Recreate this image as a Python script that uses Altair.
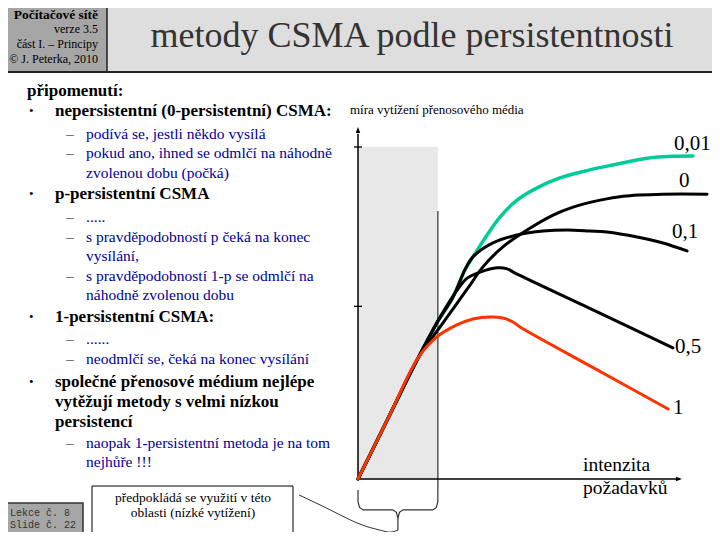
import altair as alt
import pandas as pd

# ---------------- data ----------------
# x = intenzita požadavků, y = míra vytížení přenosového média
x_1 = [0, 0.94, 1.88, 2.45, 3.07, 3.57, 4.10, 4.50, 4.81, 5.03, 7.33, 9.63]
y_1 = [0, 0.184, 0.367, 0.428, 0.464, 0.482, 0.488, 0.485, 0.473, 0.458, 0.334, 0.211]

x_05 = [0, 0.94, 1.88, 2.55, 3.08, 3.39, 3.79, 4.32, 4.63, 4.88, 7.33, 9.78]
y_05 = [0, 0.184, 0.367, 0.488, 0.569, 0.605, 0.623, 0.636, 0.633, 0.620, 0.508, 0.395]

x_01 = [0, 0.94, 1.88, 2.45, 2.95, 3.32, 3.57, 4.19, 4.94, 5.75, 6.49, 7.20, 7.73, 8.67, 9.47, 10.22]
y_01 = [0, 0.184, 0.367, 0.470, 0.548, 0.630, 0.669, 0.711, 0.735, 0.747, 0.750, 0.747, 0.744, 0.729, 0.711, 0.687]

x_001 = [0, 0.94, 1.88, 2.45, 2.95, 3.32, 3.57, 4.01, 4.41, 4.94, 5.56, 6.27, 7.20, 7.92, 8.98, 9.78, 10.40]
y_001 = [0, 0.184, 0.367, 0.470, 0.548, 0.630, 0.669, 0.735, 0.789, 0.840, 0.877, 0.907, 0.931, 0.946, 0.966, 0.972, 0.973]

x_0 = [0, 0.94, 1.88, 2.55, 3.08, 3.48, 3.88, 4.50, 5.25, 6.06, 6.68, 7.52, 8.23, 9.47, 10.84]
y_0 = [0, 0.184, 0.367, 0.458, 0.530, 0.584, 0.639, 0.699, 0.750, 0.795, 0.819, 0.840, 0.852, 0.858, 0.858]

curve_labels = ["0,01", "0", "0,1", "0,5", "1"]
y_ticks = [0.52, 1.0]
region_x = [0, 2.48]      # oblast nízkého vytížení
region_top = 1.0
axis_x_end = 10.06
axis_y_end = 1.06

header_box = ["Počítačové sítě", "verze 3.5", "část I. – Principy", "© J. Peterka, 2010"]
title = "metody CSMA podle persistentnosti"
intro = "připomenutí:"
body = [
    (1, "nepersistentní (0-persistentní) CSMA:", True),
    (2, "podívá se, jestli někdo vysílá", True),
    (2, "pokud ano, ihned se odmlčí na náhodně", True),
    (2, "zvolenou dobu (počká)", False),
    (1, "p-persistentní CSMA", True),
    (2, ".....", True),
    (2, "s pravděpodobností p čeká na konec", True),
    (2, "vysílání,", False),
    (2, "s pravděpodobností 1-p se odmlčí na", True),
    (2, "náhodně zvolenou dobu", False),
    (1, "1-persistentní CSMA:", True),
    (2, "......", True),
    (2, "neodmlčí se, čeká na konec vysílání", True),
    (1, "společné přenosové médium nejlépe", True),
    (1, "vytěžují metody s velmi nízkou", False),
    (1, "persistencí", False),
    (2, "naopak 1-persistentní metoda je na tom", True),
    (2, "nejhůře !!!", False),
]
y_title = "míra vytížení přenosového média"
x_title = ["intenzita", "požadavků"]
note = ["předpokládá se využití v této", "oblasti (nízké vytížení)"]
footer = ["Lekce č. 8", "Slide č. 22"]

# ---------------- layout / style ----------------
OFF = 8
SERIF = "Liberation Serif"
MONO = "Liberation Mono"
BLUE = "#00009a"

xs = alt.Scale(domain=[0, 10], range=[350, 672], nice=False, zero=False)
ys = alt.Scale(domain=[0, 1], range=[471, 139], nice=False, zero=False)
X = lambda f="x": alt.X(f + ":Q", scale=xs, axis=None)
Y = lambda f="y": alt.Y(f + ":Q", scale=ys, axis=None)

one = pd.DataFrame({"t": [""]})


def T(s, x, y, size, color="black", weight="normal", font=SERIF, align="left"):
    return alt.Chart(pd.DataFrame({"t": [s]})).mark_text(
        align=align, baseline="alphabetic", font=font, fontSize=size,
        fontWeight=weight, color=color
    ).encode(x=alt.value(x - OFF), y=alt.value(y - OFF), text="t:N")


def R(x0, y0, x1, y1, fill, stroke=None, sw=1):
    kw = dict(fill=fill)
    if stroke:
        kw.update(stroke=stroke, strokeWidth=sw)
    return alt.Chart(one).mark_rect(**kw).encode(
        x=alt.value(x0 - OFF), x2=alt.value(x1 - OFF),
        y=alt.value(y0 - OFF), y2=alt.value(y1 - OFF))


def L(x0, y0, x1, y1, color="black", sw=1):
    return alt.Chart(one).mark_rule(color=color, strokeWidth=sw).encode(
        x=alt.value(x0 - OFF), x2=alt.value(x1 - OFF),
        y=alt.value(y0 - OFF), y2=alt.value(y1 - OFF))


layers = []

# header
layers += [R(0, 0, 107, 72, "#a6a6a6"), R(107, 0, 720, 72, "#dedede"),
           L(107, 0, 107, 72, "#222", 1.5), L(0, 72, 720, 72, "#222", 2)]
layers.append(T(header_box[0], 98, 19, 13.5, weight="bold", align="right"))
for s, yb in zip(header_box[1:], [33, 48, 63]):
    layers.append(T(s, 98, yb, 12, align="right"))
layers.append(T(title, 412, 47, 36, color="#333333", align="center"))

# body text
layers.append(T(intro, 27, 96, 17, weight="bold"))
baselines = [116, 139, 158, 178, 199, 222, 242, 261, 281, 300, 322, 344, 364, 387, 407, 427, 448, 467]
for (lvl, s, mark), yb in zip(body, baselines):
    if lvl == 1:
        if mark:
            layers.append(T("•", 29, yb - 1, 13))
        layers.append(T(s, 55, yb, 17, weight="bold"))
    else:
        if mark:
            layers.append(T("–", 66, yb, 15.5))
        layers.append(T(s, 86, yb, 15.5, color=BLUE))

# note box + footer
layers.append(R(92, 486, 293, 533, "white", "black", 1))
layers.append(T(note[0], 193, 502, 13.5, align="center"))
layers.append(T(note[1], 193, 517, 13.5, align="center"))
layers.append(R(0, 503, 83, 545, "#a6a6a6", "#333333", 1.5))
layers.append(T(footer[0], 10, 516, 10, color="#333333", font=MONO))
layers.append(T(footer[1], 10, 528, 10, color="#333333", font=MONO))

# graph: low-load region
region = pd.DataFrame({"x": [region_x[0]], "x2": [region_x[1]], "y": [0], "y2": [region_top]})
layers.append(alt.Chart(region).mark_rect(color="#e8e8e8").encode(x=X(), x2="x2:Q", y=Y(), y2="y2:Q"))
edge = pd.DataFrame({"x": [region_x[1]], "y": [-0.033], "y2": [0.807]})
layers.append(alt.Chart(edge).mark_rule(color="#555555", strokeWidth=1.5).encode(x=X(), y=Y(), y2="y2:Q"))

# brace under the region
def brace(x0, x1, y_top, y_bar, y_tip, rx, ry):
    xm = (x0 + x1) / 2
    pts = []
    for side, (a, s) in enumerate([(x0, 1), (x1, -1)]):
        seq = [(a, y_top), (a, y_bar + ry), (a + s * rx * 0.3, y_bar + ry * 0.3), (a + s * rx, y_bar),
               (xm - s * rx, y_bar), (xm - s * rx * 0.3, y_bar - ry * 0.3), (xm, y_bar - ry)]
        if side == 0:
            seq.append((xm, y_tip))
        for i, (px, py) in enumerate(seq):
            pts.append({"x": px, "y": py, "g": side, "i": i})
    return pd.DataFrame(pts)

bdf = brace(region_x[0], region_x[1], -0.033, -0.093, -0.154, 0.16, 0.025)
layers.append(alt.Chart(bdf).mark_line(color="#333333", strokeWidth=1.2).encode(
    x=X(), y=Y(), detail="g:N", order="i:Q"))

conn = pd.DataFrame({"x": [-1.832, -1.180, -0.559, 0.062, 0.683, 0.994, 1.24],
                     "y": [-0.048, -0.078, -0.108, -0.136, -0.154, -0.160, -0.154]})
layers.append(alt.Chart(conn).mark_line(color="#333333", strokeWidth=1, interpolate="monotone").encode(x=X(), y=Y()))

# axes
layers.append(alt.Chart(pd.DataFrame({"x": [0], "y": [0], "y2": [axis_y_end - 0.02]}))
              .mark_rule(color="black", strokeWidth=1.5).encode(x=X(), y=Y(), y2="y2:Q"))
layers.append(alt.Chart(pd.DataFrame({"x": [0], "x2": [axis_x_end - 0.06], "y": [0]}))
              .mark_rule(color="black", strokeWidth=1.5).encode(x=X(), x2="x2:Q", y=Y()))
layers.append(alt.Chart(pd.DataFrame({"x": [0], "y": [axis_y_end]}))
              .mark_point(shape="M0,0L-0.75,2L0.75,2Z", size=36, filled=True, color="black", opacity=1)
              .encode(x=X(), y=Y()))
layers.append(alt.Chart(pd.DataFrame({"x": [axis_x_end], "y": [0]}))
              .mark_point(shape="M0,0L-2,-0.75L-2,0.75Z", size=36, filled=True, color="black", opacity=1)
              .encode(x=X(), y=Y()))
layers.append(alt.Chart(pd.DataFrame({"x": [0] * len(y_ticks), "y": y_ticks}))
              .mark_point(shape="M-1,0L1,0", size=64, color="black", strokeWidth=1.3, opacity=1)
              .encode(x=X(), y=Y()))

# curves
def curve(xv, yv, color, w):
    return alt.Chart(pd.DataFrame({"x": xv, "y": yv})).mark_line(
        color=color, strokeWidth=w, interpolate="catmull-rom", strokeCap="round").encode(x=X(), y=Y())

layers += [curve(x_001, y_001, "#00cc99", 3.5),
           curve(x_0, y_0, "black", 3),
           curve(x_01, y_01, "black", 3),
           curve(x_05, y_05, "black", 3),
           curve(x_1, y_1, "#ff3300", 3)]

# graph texts
layers.append(T(y_title, 350, 114, 13))
layers.append(T(x_title[0], 583, 471, 19.5))
layers.append(T(x_title[1], 583, 494, 19.5))
for s, (lx, lb) in zip(curve_labels, [(674, 150), (679, 187), (672, 238), (675, 353), (673, 414)]):
    layers.append(T(s, lx, lb, 21))

chart = alt.layer(*layers).properties(
    width=704, height=524, padding=0,
    autosize=alt.AutoSizeParams(type="none"), background="white"
).configure_view(strokeWidth=0)

chart.save("out.html", embed_options={"renderer": "svg", "actions": False})
